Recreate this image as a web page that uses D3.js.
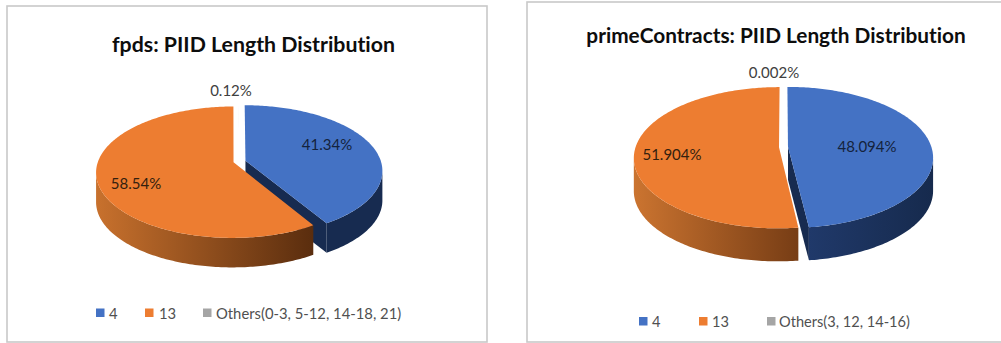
<!DOCTYPE html>
<html>
<head>
<meta charset="utf-8">
<script src="https://cdn.jsdelivr.net/npm/d3@7"></script>
<style>
  html, body { margin: 0; padding: 0; background: #fff; }
  svg { display: block; }
  text { font-family: Lato, "Open Sans", sans-serif; font-variant-ligatures: none; }
</style>
</head>
<body>
<svg id="chart" width="1001" height="343"></svg>
<script>
// Series shown in each panel, clockwise from twelve o'clock.
const fpdsCategories = ["4", "13", "Others(0-3, 5-12, 14-18, 21)"];
const fpdsValues = [41.34, 58.54, 0.12];
const primeCategories = ["4", "13", "Others(3, 12, 14-16)"];
const primeValues = [48.094, 51.904, 0.002];

const seriesColors = ["#4472C4", "#ED7D31", "#A5A5A5"];
const labelColors = ["#14233c", "#33200e", "#404040"];

const panels = [
  {
    title: "fpds: PIID Length Distribution", categories: fpdsCategories, values: fpdsValues, digits: 2,
    frame: [7, 6, 480, 336], titleAt: [253.5, 52], titleSize: 21.3, legendSize: 14.8,
    cx: 239.5, cy: 161.5, radius: 135.5, flat: 64, perspective: 0.15, depth: 29.5, explode: 6.2,
    labelAt: [[327, 150], [136, 189], [231, 96]],
    legendY: 313, legendX: [[96, 109], [145, 159], [203, 216]],
    wallStops: [["#172b50", "#172b50"], ["#c8712d", "#5a2d0e"]]
  },
  {
    title: "primeContracts: PIID Length Distribution", categories: primeCategories, values: primeValues, digits: 3,
    frame: [527, 2, 480, 340], titleAt: [776, 43], titleSize: 20.8, legendSize: 14.6,
    cx: 783.5, cy: 147, radius: 143.4, flat: 69, perspective: 0.15, depth: 33, explode: 4.5,
    labelAt: [[867, 152], [672, 160], [774, 78]],
    legendY: 321.5, legendX: [[639, 652], [699, 712], [767, 779]],
    wallStops: [["#20396a", "#162a4d"], ["#cb7430", "#773d15"]]
  }
];

const svg = d3.select("#chart");
const defs = svg.append("defs");
const color = d3.scaleOrdinal().domain([0, 1, 2]).range(seriesColors);
const pie = d3.pie().sort(null).value(d => d);

// Perspective projection of a point on the pie's disc (x to the right, y away from the viewer).
function projector(p) {
  const sx = d3.scaleLinear().domain([0, 1]).range([0, p.radius]);
  const sy = d3.scaleLinear().domain([0, 1]).range([0, -p.flat]);
  return (x, y) => {
    const s = 1 / (1 + p.perspective * y);
    return [p.cx + sx(x) * s, p.cy + sy(y) * s];
  };
}

const pathOf = d3.line();

panels.forEach((p, panelIndex) => {
  const g = svg.append("g");
  const project = projector(p);
  const arcs = pie(p.values);
  const silhouette = Math.acos(-p.perspective);

  g.append("rect")
    .attr("x", p.frame[0]).attr("y", p.frame[1])
    .attr("width", p.frame[2]).attr("height", p.frame[3])
    .attr("fill", "#fff").attr("stroke", "#c9c9c9").attr("stroke-width", 1.6);

  // Wall shading runs left to right along the rim of each slice.
  [0, 1].forEach(i => {
    const grad = defs.append("linearGradient").attr("id", `wall-${panelIndex}-${i}`);
    const stops = p.wallStops[i];
    grad.append("stop").attr("offset", "0%").attr("stop-color", stops[0]);
    grad.append("stop").attr("offset", "100%").attr("stop-color", stops[1]);
  });

  const geometry = arcs.map(a => {
    const mid = (a.startAngle + a.endAngle) / 2;
    const e = p.explode / p.radius;
    const ox = e * Math.sin(mid), oy = e * Math.cos(mid);
    const rim = (t) => project(ox + Math.sin(t), oy + Math.cos(t));
    const sampled = (t0, t1) => {
      const n = Math.max(2, Math.ceil(Math.abs(t1 - t0) * 60));
      return d3.range(n + 1).map(i => rim(t0 + (t1 - t0) * i / n));
    };
    return { a, apex: project(ox, oy), rim, sampled };
  });

  const drop = pts => pts.map(([x, y]) => [x, y + p.depth]);

  // Blue slice first so that the larger slice overlaps its cut face.
  [0, 2, 1].forEach(i => {
    const { a, apex, rim, sampled } = geometry[i];
    const t0 = Math.max(a.startAngle, silhouette);
    const t1 = Math.min(a.endAngle, 2 * Math.PI - silhouette);

    if (i === 0) {
      const tip = rim(a.endAngle);
      g.append("path")
        .attr("d", pathOf([apex, tip, [tip[0], tip[1] + p.depth], [apex[0], apex[1] + p.depth]]) + "Z")
        .attr("fill", "#172b50");
    }
    if (i !== 2 && t1 > t0) {
      const edge = sampled(t0, t1);
      g.append("path")
        .attr("d", pathOf(edge.concat(drop(edge).reverse())) + "Z")
        .attr("fill", `url(#wall-${panelIndex}-${i})`);
    }
    const outline = [apex].concat(sampled(a.startAngle, a.endAngle));
    const top = g.append("path")
      .attr("d", pathOf(outline) + "Z")
      .attr("fill", color(i));
    // The smallest slice is a hairline, outlined so it merges with the gap between slices.
    if (i === 2) top.attr("stroke", "#fff").attr("stroke-width", 1.2);
  });

  g.append("text")
    .attr("x", p.titleAt[0]).attr("y", p.titleAt[1])
    .attr("text-anchor", "middle")
    .attr("font-size", p.titleSize).attr("font-weight", 700).attr("fill", "#0d0d0d")
    .text(p.title);

  p.values.forEach((v, i) => {
    g.append("text")
      .attr("x", p.labelAt[i][0]).attr("y", p.labelAt[i][1])
      .attr("text-anchor", "middle")
      .attr("font-size", 15).attr("fill", labelColors[i])
      .text(d3.format(`.${p.digits}f`)(v) + "%");
  });

  p.categories.forEach((c, i) => {
    g.append("rect")
      .attr("x", p.legendX[i][0]).attr("y", p.legendY - 4.5)
      .attr("width", 8.5).attr("height", 8.5)
      .attr("fill", color(i));
    g.append("text")
      .attr("x", p.legendX[i][1]).attr("y", p.legendY + 5.5)
      .attr("font-size", p.legendSize).attr("fill", "#505050")
      .text(c);
  });
});
</script>
</body>
</html>
